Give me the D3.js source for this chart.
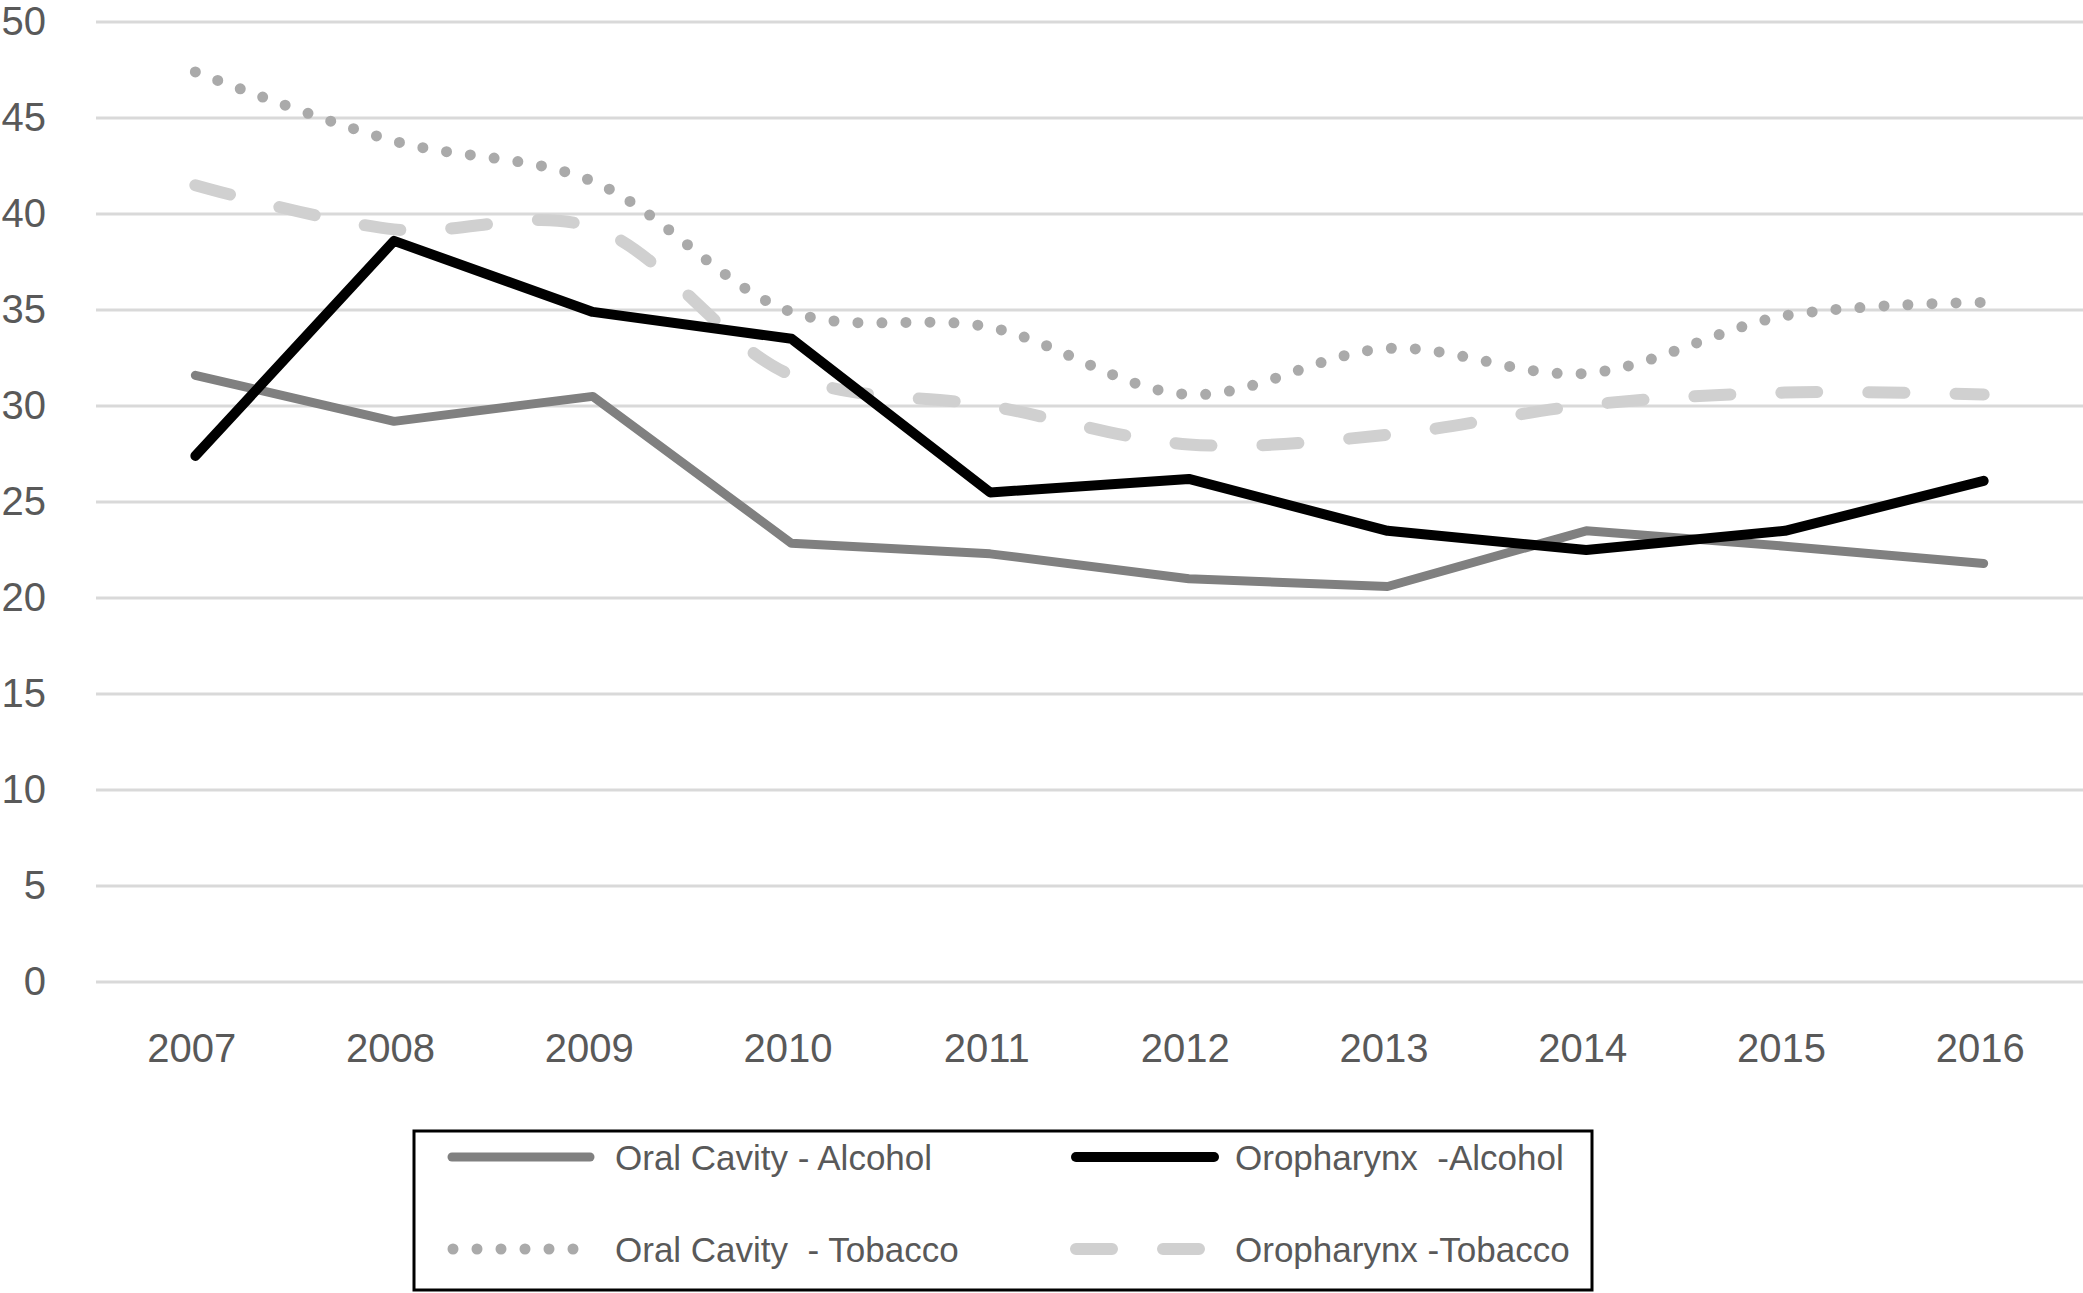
<!DOCTYPE html>
<html>
<head>
<meta charset="utf-8">
<script src="https://cdn.jsdelivr.net/npm/d3@7"></script>
<style>
  body { margin: 0; background: #fff; }
  svg { display: block; font-family: "Liberation Sans", Arial, Helvetica, sans-serif; }
</style>
</head>
<body>
<div id="chart"></div>
<script>
// data
const years = ["2007", "2008", "2009", "2010", "2011", "2012", "2013", "2014", "2015", "2016"];
const yTicks = [0, 5, 10, 15, 20, 25, 30, 35, 40, 45, 50];

const oralAlcohol   = [31.6, 29.2, 30.5, 22.85, 22.3, 21.0, 20.6, 23.5, 22.7, 21.8];
const oroAlcohol    = [27.4, 38.6, 34.9, 33.5, 25.5, 26.2, 23.5, 22.5, 23.5, 26.1];
const oralTobacco   = [47.4, 43.8, 41.7, 34.9, 34.1, 30.6, 33.0, 31.7, 34.7, 35.4];
const oroTobacco    = [41.5, 39.2, 39.3, 31.6, 30.0, 28.0, 28.5, 30.05, 30.7, 30.6];

const seriesNames = ["Oral Cavity - Alcohol", "Oropharynx  -Alcohol", "Oral Cavity  - Tobacco", "Oropharynx -Tobacco"];

const W = 2083, H = 1293;

const svg = d3.select("#chart")
  .append("svg")
    .attr("width", W)
    .attr("height", H);

// scales
const x = d3.scalePoint()
  .domain(years)
  .range([96, 2083])
  .padding(0.5);

const y = d3.scaleLinear()
  .domain([0, 50])
  .range([982, 22]);

// gridlines
svg.append("g")
  .selectAll("line")
  .data(yTicks)
  .join("line")
    .attr("x1", 96)
    .attr("x2", W)
    .attr("y1", d => y(d))
    .attr("y2", d => y(d))
    .attr("stroke", "#d9d9d9")
    .attr("stroke-width", 3);

// Y axis labels
const yAxis = svg.append("g")
  .attr("transform", "translate(46,0)")
  .call(d3.axisLeft(y).tickValues(yTicks).tickSize(0).tickPadding(0));
yAxis.select(".domain").remove();
yAxis.selectAll("text")
  .attr("fill", "#595959")
  .style("font-size", "40px")
  .style("font-family", "'Liberation Sans', Arial, sans-serif");

// X axis labels
const xAxis = svg.append("g")
  .attr("transform", "translate(-4,1034)")
  .call(d3.axisBottom(x).tickSize(0).tickPadding(0));
xAxis.select(".domain").remove();
xAxis.selectAll("text")
  .attr("fill", "#595959")
  .style("font-size", "40px")
  .style("font-family", "'Liberation Sans', Arial, sans-serif");

// line styles
const styles = [
  {values: oralAlcohol, color: "#808080", width: 9,  dash: null,    curve: d3.curveLinear},
  {values: oroAlcohol,  color: "#000000", width: 10, dash: null,    curve: d3.curveLinear},
  {values: oralTobacco, color: "#aaaaaa", width: 11, dash: "0 24",  curve: d3.curveCatmullRom},
  {values: oroTobacco,  color: "#d0d0d0", width: 12, dash: "36 51", curve: d3.curveCatmullRom}
];

// draw order: tobacco behind alcohol
const drawOrder = [3, 2, 0, 1];
drawOrder.forEach(function(i) {
  const s = styles[i];
  const line = d3.line()
    .x((d, j) => x(years[j]))
    .y(d => y(d))
    .curve(s.curve);
  svg.append("path")
    .datum(s.values)
    .attr("d", line)
    .attr("fill", "none")
    .attr("stroke", s.color)
    .attr("stroke-width", s.width)
    .attr("stroke-linecap", "round")
    .attr("stroke-linejoin", "round")
    .attr("stroke-dasharray", s.dash);
});

// legend
const legend = svg.append("g");
legend.append("rect")
  .attr("x", 414)
  .attr("y", 1131)
  .attr("width", 1178)
  .attr("height", 159)
  .attr("fill", "#fff")
  .attr("stroke", "#000")
  .attr("stroke-width", 3);

const legendPos = [
  {lx: 452,  tx: 615,  cy: 1157},
  {lx: 1076, tx: 1235, cy: 1157},
  {lx: 453,  tx: 615,  cy: 1249},
  {lx: 1076, tx: 1235, cy: 1249}
];
const sampleLen = [138, 138, 121, 123];

styles.forEach(function(s, i) {
  const p = legendPos[i];
  legend.append("line")
    .attr("x1", p.lx)
    .attr("x2", p.lx + sampleLen[i])
    .attr("y1", p.cy)
    .attr("y2", p.cy)
    .attr("stroke", s.color)
    .attr("stroke-width", s.width)
    .attr("stroke-linecap", "round")
    .attr("stroke-dasharray", s.dash);
  legend.append("text")
    .attr("x", p.tx)
    .attr("y", p.cy)
    .attr("dy", "0.36em")
    .attr("fill", "#595959")
    .style("font-size", "35px")
    .style("white-space", "pre")
    .attr("xml:space", "preserve")
    .text(seriesNames[i]);
});
</script>
</body>
</html>
